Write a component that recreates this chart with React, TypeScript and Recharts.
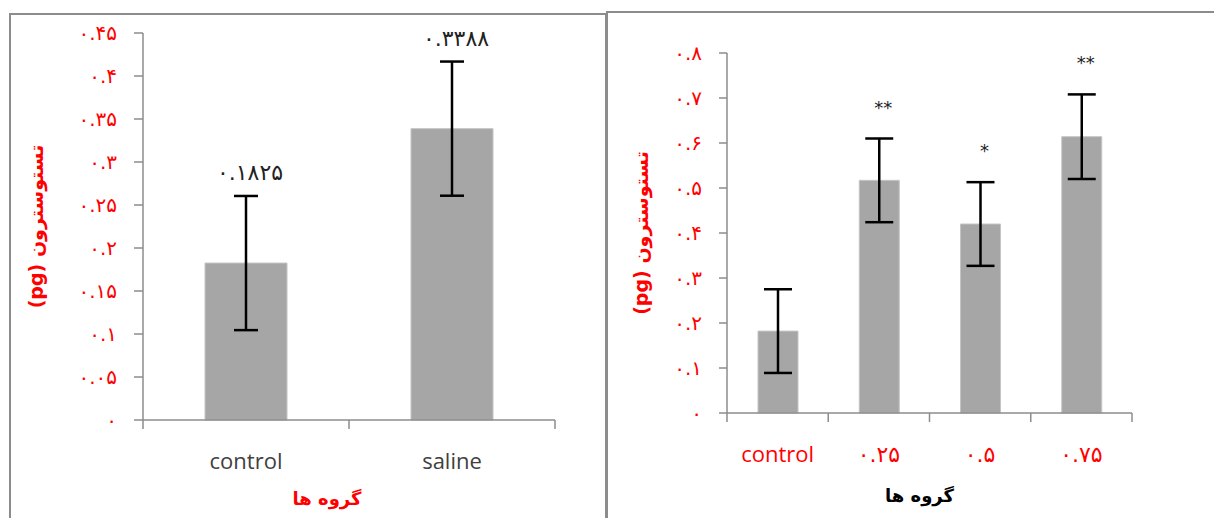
import React from 'react'
import { BarChart, Bar, XAxis, YAxis, ErrorBar, LabelList } from 'recharts'

// left panel: control vs saline
const leftGroups = ['control', 'saline']
const leftMeans = [0.1825, 0.3388]
const leftErrors = [0.078, 0.078]
const leftValueLabels = ['۰.۱۸۲۵', '۰.۳۳۸۸']
const leftTicks = [0, 0.05, 0.1, 0.15, 0.2, 0.25, 0.3, 0.35, 0.4, 0.45]
const leftTickLabels = ['۰', '۰.۰۵', '۰.۱', '۰.۱۵', '۰.۲', '۰.۲۵', '۰.۳', '۰.۳۵', '۰.۴', '۰.۴۵']

// right panel: control + doses
const rightGroups = ['control', '۰.۲۵', '۰.۵', '۰.۷۵']
const rightMeans = [0.182, 0.517, 0.42, 0.614]
const rightErrors = [0.093, 0.093, 0.093, 0.094]
const rightMarks = ['', '**', '*', '**']
const rightTicks = [0, 0.1, 0.2, 0.3, 0.4, 0.5, 0.6, 0.7, 0.8]
const rightTickLabels = ['۰', '۰.۱', '۰.۲', '۰.۳', '۰.۴', '۰.۵', '۰.۶', '۰.۷', '۰.۸']

const yTitle = 'تستوسترون (pg)'
const xTitle = 'گروه ها'

const PERSIAN = "'DejaVu Sans', sans-serif"
const LATIN = "'Open Sans', sans-serif"
const AXIS = '#8c8c8c'
const RED = '#ff0000'

type PanelProps = {
  groups: string[]
  means: number[]
  errors: number[]
  tops: string[]
  ticks: number[]
  tickLabels: string[]
  width: number
  height: number
  margin: { top: number; right: number; bottom: number; left: number }
  yAxisWidth: number
  barSize: number
  capWidth: number
  catColor: string
  xTitleColor: string
  xTitleDx: number
  xTitleDy: number
  yTitleDx: number
  topFont: number
  topGap: number
  tickSize: number
}

function Panel(p: PanelProps) {
  const data = p.groups.map((g, i) => ({ group: g, mean: p.means[i], err: p.errors[i], top: p.tops[i] }))
  const plotWidth = p.width - p.margin.left - p.margin.right - p.yAxisWidth
  const band = plotWidth / p.groups.length

  const CatTick = (props: any) => {
    const { x, y, payload, index } = props
    const left = x - band / 2
    return (
      <g>
        <line x1={left} x2={left} y1={y} y2={y + 9} stroke={AXIS} strokeWidth={1.5} />
        {index === p.groups.length - 1 && (
          <line x1={x + band / 2} x2={x + band / 2} y1={y} y2={y + 9} stroke={AXIS} strokeWidth={1.5} />
        )}
        <text
          x={x}
          y={y + 43}
          textAnchor="middle"
          dominantBaseline="middle"
          fill={p.catColor}
          fontSize={22}
          fontFamily={/[a-z]/.test(payload.value) ? LATIN : PERSIAN}
        >
          {payload.value}
        </text>
      </g>
    )
  }

  const TopLabel = (props: any) => {
    const { x, y, width, height, index } = props
    const row = data[index]
    if (!row || !row.top) return null
    const errPx = (height / row.mean) * row.err
    return (
      <text
        x={x + width / 2 + 4}
        y={y - errPx - p.topGap}
        textAnchor="middle"
        dominantBaseline="middle"
        fill="#222"
        fontSize={p.topFont}
        fontFamily={PERSIAN}
      >
        {row.top}
      </text>
    )
  }

  const YTitle = (props: any) => {
    const vb = props.viewBox
    const cx = vb.x + p.yTitleDx
    const cy = vb.y + vb.height / 2
    return (
      <text
        x={cx}
        y={cy}
        transform={`rotate(-90, ${cx}, ${cy})`}
        textAnchor="middle"
        dominantBaseline="middle"
        direction="rtl"
        fill={RED}
        fontWeight="bold"
        fontSize={19}
        fontFamily={PERSIAN}
      >
        {yTitle}
      </text>
    )
  }

  const XTitle = (props: any) => {
    const vb = props.viewBox
    return (
      <text
        x={vb.x + vb.width / 2 + p.xTitleDx}
        y={vb.y + p.xTitleDy}
        textAnchor="middle"
        dominantBaseline="middle"
        direction="rtl"
        fill={p.xTitleColor}
        fontWeight="bold"
        fontSize={18}
        fontFamily={PERSIAN}
      >
        {xTitle}
      </text>
    )
  }

  return (
    <BarChart width={p.width} height={p.height} data={data} margin={p.margin}>
      <XAxis
        dataKey="group"
        height={30}
        axisLine={{ stroke: AXIS, strokeWidth: 1.5 }}
        tickLine={false}
        tickSize={0}
        tickMargin={0}
        tick={<CatTick />}
        interval={0}
        label={{ content: <XTitle /> }}
      />
      <YAxis
        width={p.yAxisWidth}
        domain={[p.ticks[0], p.ticks[p.ticks.length - 1]]}
        ticks={p.ticks}
        interval={0}
        tickFormatter={(v: number) => p.tickLabels[p.ticks.indexOf(v)] ?? ''}
        tick={{ fill: RED, fontSize: 20, fontFamily: PERSIAN }}
        tickSize={p.tickSize}
        tickMargin={17}
        axisLine={{ stroke: AXIS, strokeWidth: 1.5 }}
        tickLine={{ stroke: AXIS, strokeWidth: 1.5 }}
        label={{ content: <YTitle /> }}
      />
      <Bar dataKey="mean" fill="#a6a6a6" stroke="#c4c4c4" strokeWidth={1} barSize={p.barSize} isAnimationActive={false}>
        <ErrorBar dataKey="err" width={p.capWidth} stroke="#000" strokeWidth={2.5} direction="y" />
        <LabelList dataKey="top" content={<TopLabel />} />
      </Bar>
    </BarChart>
  )
}

export default function App() {
  return (
    <div style={{ position: 'absolute', left: 0, top: 0, width: 1214, height: 518, background: '#fff', overflow: 'hidden' }}>
      {/* panel frames */}
      <div style={{ position: 'absolute', left: 9, top: 13, width: 594, height: 520, border: '2px solid #8c8c8c' }} />
      <div style={{ position: 'absolute', left: 606, top: 11, width: 620, height: 520, border: '2px solid #8c8c8c' }} />

      <div style={{ position: 'absolute', left: 0, top: 0 }}>
        <Panel
          groups={leftGroups}
          means={leftMeans}
          errors={leftErrors}
          tops={leftValueLabels}
          ticks={leftTicks}
          tickLabels={leftTickLabels}
          width={605}
          height={518}
          margin={{ top: 33, right: 50, bottom: 68, left: 13 }}
          yAxisWidth={130}
          barSize={82}
          capWidth={12}
          catColor="#404040"
          xTitleColor={RED}
          xTitleDx={-22}
          xTitleDy={80}
          yTitleDx={24}
          topFont={22}
          topGap={22}
          tickSize={9}
        />
      </div>
      <div style={{ position: 'absolute', left: 607, top: 0 }}>
        <Panel
          groups={rightGroups}
          means={rightMeans}
          errors={rightErrors}
          tops={rightMarks}
          ticks={rightTicks}
          tickLabels={rightTickLabels}
          width={607}
          height={518}
          margin={{ top: 53, right: 82, bottom: 75, left: 10 }}
          yAxisWidth={110}
          barSize={40}
          capWidth={14}
          catColor={RED}
          xTitleColor="#000"
          xTitleDx={-10}
          xTitleDy={84}
          yTitleDx={25}
          topFont={18}
          topGap={30}
          tickSize={8}
        />
      </div>
    </div>
  )
}
